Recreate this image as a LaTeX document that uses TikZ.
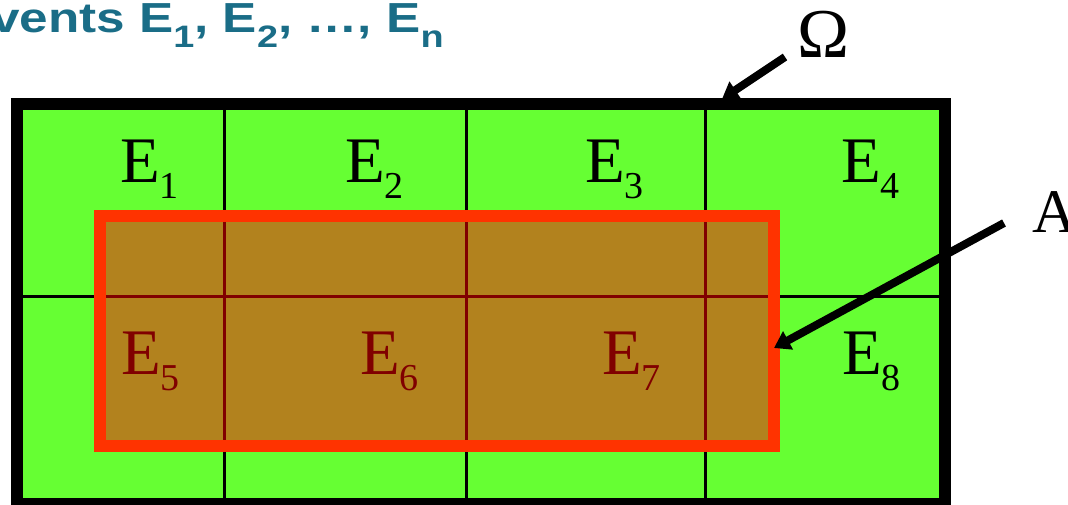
\documentclass[tikz,border=0pt]{standalone}
\usepackage{fontspec}
\setmainfont{Liberation Serif}
\newfontfamily\titlefont{Liberation Sans}
\usetikzlibrary{arrows.meta}
\definecolor{cellgreen}{RGB}{102,255,51}
\definecolor{abrown}{RGB}{178,130,30}
\definecolor{aborder}{RGB}{255,51,0}
\definecolor{adark}{RGB}{128,0,0}
\definecolor{titleblue}{RGB}{26,109,135}
\newcommand\elab[1]{E\raisebox{-16pt}{\fontsize{38}{40}\selectfont #1}}
\newcommand\tsub[1]{\raisebox{-15pt}{\fontsize{31}{31}\selectfont #1}}
\begin{document}
\begin{tikzpicture}[x=1pt,y=-1pt,
  lab/.style={anchor=base west,inner sep=0pt,font=\fontsize{65}{70}\selectfont},
  gridline/.style={line width=3pt,black},
  inline/.style={line width=3pt,adark},
  pointer/.style={line width=8pt,black,-{Triangle[length=16pt,width=20pt]}}
]
\useasboundingbox (0,0) rectangle (1068,505);
% title
\node[anchor=base west,inner sep=0pt,text=titleblue] (title) at (-9,33)
  {\scalebox{1.22}[1]{\titlefont\bfseries\fontsize{42}{44}\selectfont vents E\tsub{1}, E\tsub{2}, …, E\tsub{n}}};
% sample space
\fill[cellgreen] (17,104) rectangle (945,504);
\draw[gridline] (224.5,104) -- (224.5,504);
\draw[gridline] (466,104) -- (466,504);
\draw[gridline] (705.5,104) -- (705.5,504);
\draw[gridline] (17,296) -- (945,296);
% event A
\fill[abrown] (99.5,216) rectangle (774,446);
\draw[inline] (224.5,216) -- (224.5,446);
\draw[inline] (466,216) -- (466,446);
\draw[inline] (705.5,216) -- (705.5,446);
\draw[inline] (99.5,296) -- (774,296);
\draw[aborder,line width=12pt] (99.5,216) rectangle (774,446);
\draw[black,line width=12pt] (17,104) rectangle (945,504);
% labels
\node[lab] (e1) at (120,183) {\elab{1}};
\node[lab] (e2) at (345,183) {\elab{2}};
\node[lab] (e3) at (585,183) {\elab{3}};
\node[lab] (e4) at (841,183) {\elab{4}};
\node[lab,text=adark] (e5) at (121,374) {\elab{5}};
\node[lab,text=adark] (e6) at (360,374) {\elab{6}};
\node[lab,text=adark] (e7) at (602,374) {\elab{7}};
\node[lab] (e8) at (842,374) {\elab{8}};
\node[anchor=base west,inner sep=0pt,font=\fontsize{70}{75}\selectfont] (omega) at (797,58) {Ω};
\node[anchor=base west,inner sep=0pt,font=\fontsize{62}{66}\selectfont] (alabel) at (1032,233) {A};
% pointers
\coordinate (otail) at (785,57);
\coordinate (otip) at (722,99);
\coordinate (atail) at (1004,223);
\coordinate (atip) at (774,348);
\draw[pointer] (otail) -- (otip);
\draw[pointer] (atail) -- (atip);
\end{tikzpicture}
\end{document}
